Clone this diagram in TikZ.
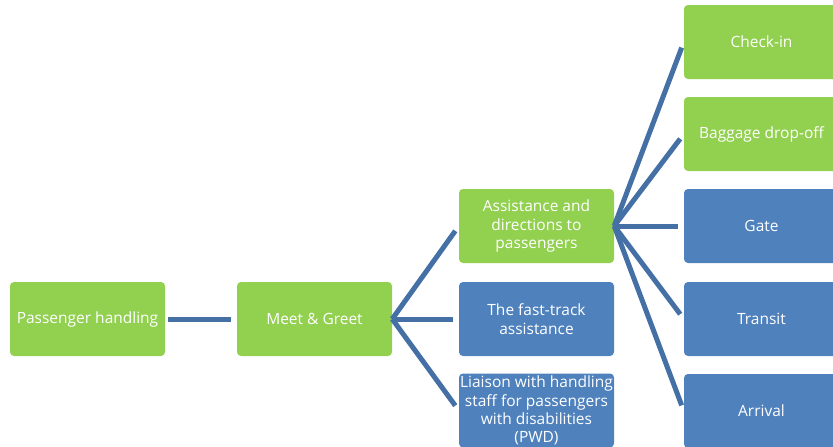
\documentclass[tikz,border=0pt]{standalone}
\usepackage{fontspec}
\setmainfont{Open Sans}
\usetikzlibrary{positioning}
\definecolor{boxgreen}{RGB}{146,208,80}
\definecolor{boxblue}{RGB}{79,129,189}
\definecolor{linkblue}{RGB}{68,112,166}
\tikzset{
    mynodeg/.style = {rectangle, rounded corners=4pt, fill=boxgreen, minimum width=155pt, minimum height=74pt, inner sep=1pt, align=center, text=white, font=\fontsize{15.5}{18.3}\selectfont},
    mynodeb/.style = {mynodeg, fill=boxblue},
    edgen/.style = {-, line width=5pt, linkblue, shorten >=6pt}
}
\begin{document}
\begin{tikzpicture}[x=1pt,y=-1pt]
%
\path[use as bounding box] (0,0) rectangle (833,447);
%
\node[mynodeg] at (87.5,319) (ph) {Passenger handling};
\node[mynodeg] at (314.5,319) (mg) {Meet \& Greet};
%
\node[mynodeg] at (536.5,226) (ad) {Assistance and\\directions to\\passengers};
\node[mynodeb] at (536.5,319) (ft) {The fast-track\\assistance};
\node[mynodeb] at (536.5,410.5) (lw) {Liaison with handling\\staff for passengers\\with disabilities\\(PWD)};
%
\node[mynodeg] at (761.5,42) (ci) {Check-in};
\node[mynodeg] at (761.5,134) (bd) {Baggage drop-off};
\node[mynodeb] at (761.5,226) (gt) {Gate};
\node[mynodeb] at (761.5,319) (tr) {Transit};
\node[mynodeb] at (761.5,411) (ar) {Arrival};
%
\draw[edgen, shorten <=3pt] (ph.east) edge node {} (mg.west);
\draw[edgen] (mg.east) edge node {} (ad.west);
\draw[edgen] (mg.east) edge node {} (ft.west);
\draw[edgen] (mg.east) edge node {} (lw.west);
\draw[edgen] (ad.east) edge node {} (ci.west);
\draw[edgen] (ad.east) edge node {} (bd.west);
\draw[edgen] (ad.east) edge node {} (gt.west);
\draw[edgen] (ad.east) edge node {} (tr.west);
\draw[edgen] (ad.east) edge node {} (ar.west);

\end{tikzpicture}
\end{document}
